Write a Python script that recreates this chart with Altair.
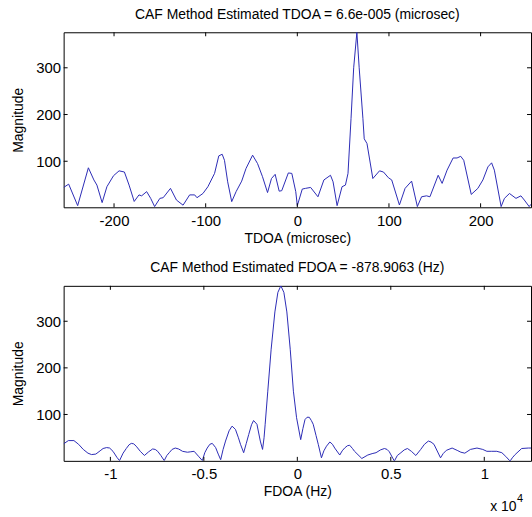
import altair as alt
import pandas as pd

# ---------------- data ----------------
tdoa_us = [-255, -249.5, -239.7, -228, -222, -218.7, -213, -207.8, -200.6, -194.5,
           -188.7, -183.6, -178, -172.8, -169.9, -164.4, -160, -155.7, -150, -146.4,
           -138.4, -131.9, -124.7, -117.5, -112, -109.5, -103, -97.6, -90.3, -85.7,
           -82, -79.5, -76, -71.6, -66.8, -60.7, -56, -48.8, -43.4, -38,
           -32.5, -28.2, -24.2, -19.8, -17, -9.8, -6, -1.7, 0, 5.4,
           9, 14.5, 22.5, 29, 36.2, 39, 43.4, 48.8, 52.5, 55.3,
           58.6, 61.5, 65, 67.5, 71.6, 73, 76, 82.4, 89.7, 94,
           99.5, 103, 111.4, 117.6, 124.7, 131, 135.6, 141, 144.7, 153.7,
           158, 163.4, 170, 174.3, 178.3, 181.6, 189.8, 197, 202.5, 208,
           212, 215, 222.4, 226, 231.5, 238.6, 244, 247.7, 253, 255]
tdoa_mag = [44, 51, 5, 86, 60, 49, 11.5, 45.5, 69, 79.5,
            77, 49, 14, 28, 26, 35, 20.6, 3, 20.6, 22,
            42, 17, 6, 28, 28, 22, 31, 45.5, 74, 111.5,
            115, 102, 56, 13.6, 35, 57.5, 84.5, 113, 95, 67,
            33, 63, 72, 36, 37, 75, 74, 35, 5, 40.5,
            42, 44, 24, 60, 70, 56, 5, 45.5, 49, 74,
            191, 300, 376, 300, 191, 148, 138, 63, 79.5, 77,
            64.6, 60, 6.4, 42, 57.5, 3, 24, 26, 24, 70,
            52.6, 81, 107, 107, 110.6, 102, 29, 42, 60, 88,
            96.6, 81, 3, 20.6, 31, 20.6, 26, 17, 3, 8]

# FDOA in units of 1e4 Hz
fdoa_1e4hz = [-1.25, -1.225, -1.195, -1.17, -1.145, -1.12, -1.101, -1.078, -1.055, -1.039,
              -1.02, -1.004, -0.986, -0.965, -0.951, -0.932, -0.915, -0.9, -0.888, -0.875,
              -0.862, -0.84, -0.818, -0.795, -0.774, -0.76, -0.747, -0.73, -0.712, -0.698,
              -0.685, -0.67, -0.653, -0.635, -0.614, -0.588, -0.57, -0.552, -0.529, -0.508,
              -0.495, -0.482, -0.468, -0.455, -0.437, -0.423, -0.41, -0.397, -0.384, -0.365,
              -0.349, -0.331, -0.315, -0.304, -0.287, -0.273, -0.26, -0.245, -0.234, -0.216,
              -0.198, -0.186, -0.178, -0.172, -0.158, -0.14, -0.12, -0.104, -0.088, -0.072,
              -0.056, -0.038, -0.021, -0.004, 0.018, 0.03, 0.041, 0.052, 0.064, 0.075,
              0.085, 0.1, 0.112, 0.129, 0.142, 0.156, 0.174, 0.188, 0.2, 0.227,
              0.24, 0.253, 0.268, 0.28, 0.295, 0.306, 0.345, 0.377, 0.40, 0.421,
              0.445, 0.466, 0.48, 0.492, 0.519, 0.535, 0.554, 0.572, 0.589, 0.61,
              0.634, 0.66, 0.68, 0.701, 0.715, 0.731, 0.766, 0.78, 0.797, 0.828,
              0.855, 0.875, 0.896, 0.926, 0.961, 0.992, 1.014, 1.04, 1.067, 1.094,
              1.115, 1.138, 1.15, 1.165, 1.2, 1.236, 1.25]
fdoa_mag = [37, 44, 44, 36, 25, 17, 14, 15, 22, 27,
            29, 28, 21, 8, 1, 17, 27, 35, 38, 37,
            32, 21, 12, 20, 26, 25, 21, 12, 1, 12,
            18, 25, 28, 26, 21, 19, 20, 21, 10.5, 1,
            18, 28, 36, 38, 29, 15, 3, 25, 43, 65,
            75, 68, 50, 36, 18, 38, 57, 78, 87, 79,
            43, 25, 50, 79, 150, 240, 320, 362, 376, 362,
            320, 240, 150, 93, 46, 70, 89, 94, 94, 87,
            79, 55, 36, 7, 22, 32, 41, 36, 28, 13,
            22, 28, 33, 34, 27, 21, 5.6, 13, 16, 18,
            24, 27, 25, 20, 0, 12, 18, 24, 27, 21,
            12, 25, 36, 43, 41, 36, 7, 16, 23, 28,
            23, 19, 17, 25, 28, 25, 21, 21, 21, 18,
            10, 0, 7, 14, 27, 28, 28]

tdoa_ticks = [-200, -100, 0, 100, 200]
fdoa_ticks = [-1, -0.5, 0, 0.5, 1]
mag_ticks = [100, 200, 300]

title_top = "CAF Method Estimated TDOA = 6.6e-005 (microsec)"
title_bot = "CAF Method Estimated FDOA = -878.9063 (Hz)"

W, H = 470, 176
TL = 4  # inward tick length
LINE_COLOR = "#2b2bb5"
FONT = "Liberation Sans"


def panel(xs, ys, xdom, ydom, xticks, xtitle, title):
    df = pd.DataFrame({"x": xs, "m": ys})
    xscale = alt.Scale(domain=xdom, nice=False, zero=False)
    yscale = alt.Scale(domain=ydom, nice=False, zero=False)
    xaxis = alt.Axis(values=xticks, title=xtitle, grid=False, ticks=False, domain=False,
                     labelPadding=6, titlePadding=3, labelExpr="'' + datum.value")
    yaxis = alt.Axis(values=mag_ticks, title="Magnitude", grid=False, ticks=False,
                     domain=False, labelPadding=3, titlePadding=10)
    X = lambda f: alt.X(f, scale=xscale, axis=xaxis, title=xtitle)
    Y = lambda f: alt.Y(f, scale=yscale, axis=yaxis, title="Magnitude")
    line = alt.Chart(df).mark_line(color=LINE_COLOR, strokeWidth=1, clip=True).encode(
        x=X("x:Q"), y=Y("m:Q"))
    xt = pd.DataFrame({"t": xticks})
    yt = pd.DataFrame({"t": mag_ticks})
    rule_kw = dict(color="black", strokeWidth=1)
    xb = alt.Chart(xt).mark_rule(**rule_kw).encode(
        x=X("t:Q"), y=alt.value(H), y2=alt.value(H - TL))
    xtp = alt.Chart(xt).mark_rule(**rule_kw).encode(
        x=X("t:Q"), y=alt.value(0), y2=alt.value(TL))
    yl = alt.Chart(yt).mark_rule(**rule_kw).encode(
        y=Y("t:Q"), x=alt.value(0), x2=alt.value(TL))
    yr = alt.Chart(yt).mark_rule(**rule_kw).encode(
        y=Y("t:Q"), x=alt.value(W), x2=alt.value(W - TL))
    return alt.layer(line, xb, xtp, yl, yr).properties(
        width=W, height=H,
        title=alt.TitleParams(title, fontSize=14, fontWeight="normal", font=FONT,
                              color="black", offset=10),
    )


top = panel(tdoa_us, tdoa_mag, [-255, 255], [1.5, 376], tdoa_ticks, "TDOA (microsec)", title_top)
bot = panel(fdoa_1e4hz, fdoa_mag, [-1.25, 1.25], [0.5, 376], fdoa_ticks, "FDOA (Hz)", title_bot)

exp_df = pd.DataFrame({"t": ["x 10"], "s": ["4"]})
exp_base = alt.Chart(exp_df)
exp_x = exp_base.mark_text(font=FONT, fontSize=14, color="black", align="left",
                           baseline="middle").encode(
    text="t:N", x=alt.value(W - 41), y=alt.value(H + 46))
exp_s = exp_base.mark_text(font=FONT, fontSize=11, color="black", align="left",
                           baseline="middle").encode(
    text="s:N", x=alt.value(W - 14), y=alt.value(H + 38))
bot = alt.layer(bot, exp_x, exp_s)

chart = alt.vconcat(top, bot, spacing=15).properties(
    padding={"left": 11, "top": 6, "right": 0, "bottom": 0},
    background="white",
).configure_view(
    stroke="black", strokeWidth=1
).configure_axis(
    labelFont=FONT, titleFont=FONT, labelFontSize=15, titleFontSize=14,
    labelColor="black", titleColor="black", titleFontWeight="normal",
)

chart.save("out.html", embed_options={"renderer": "svg", "actions": False})
